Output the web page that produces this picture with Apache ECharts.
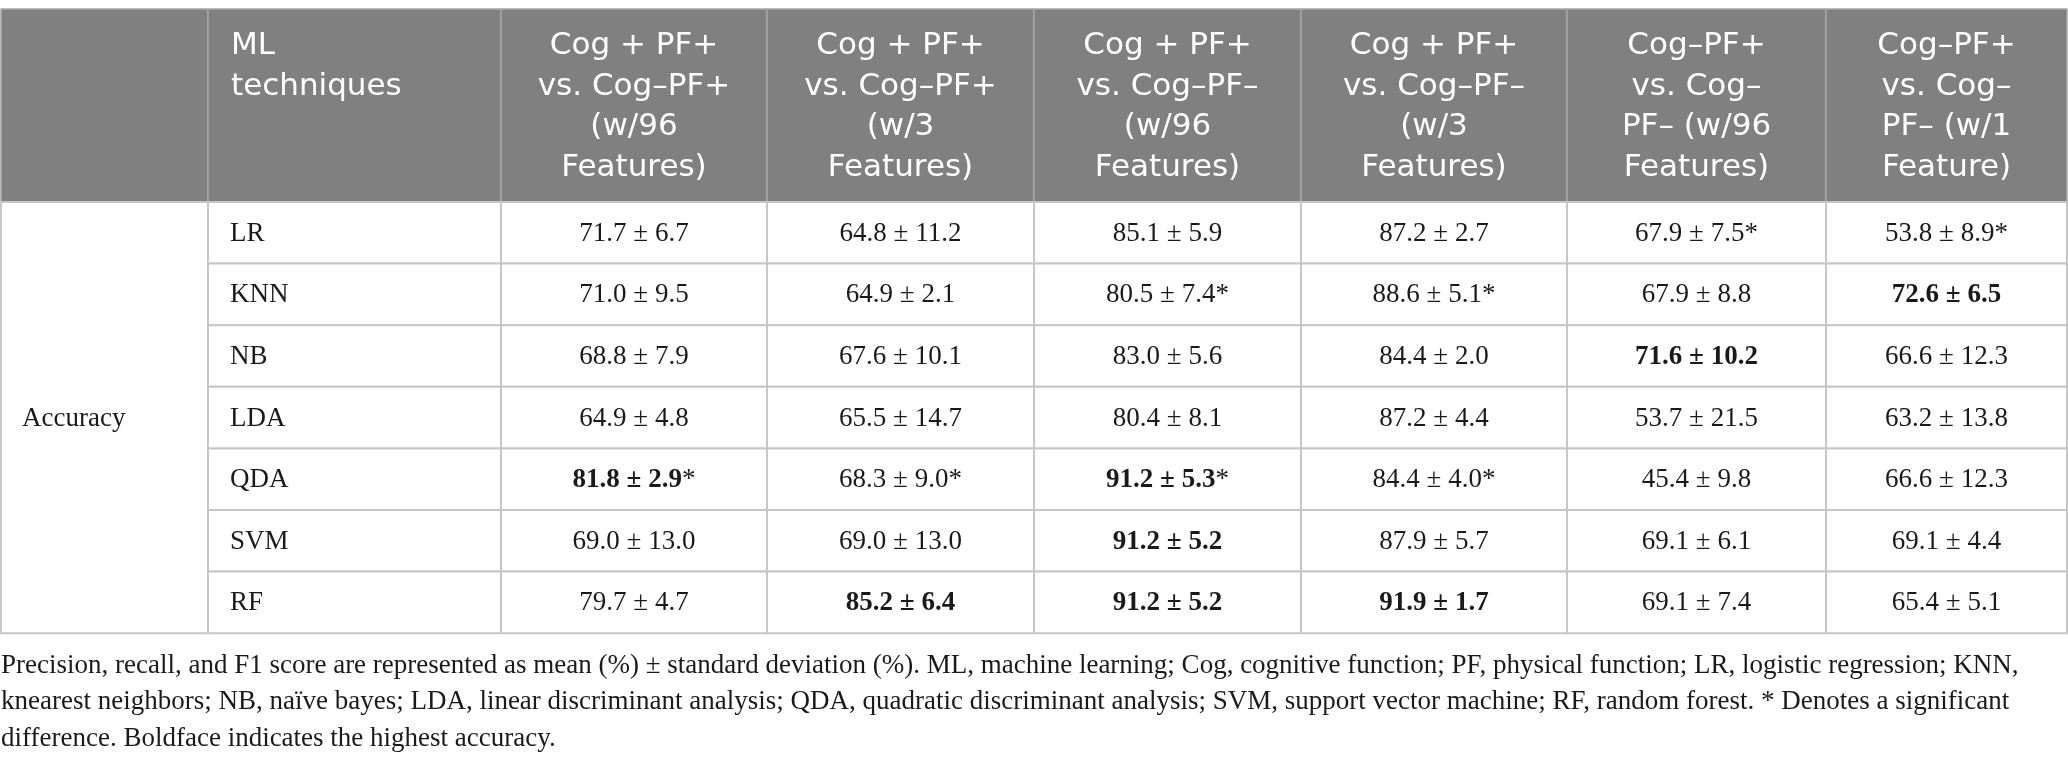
<!DOCTYPE html>
<html>
<head>
<meta charset="utf-8">
<title>ML accuracy table</title>
<script src="https://cdn.jsdelivr.net/npm/echarts@6/dist/echarts.min.js"></script>
<style>
  html, body { margin: 0; padding: 0; background: #fff; }
  #table-chart { width: 2068px; height: 765px; }
</style>
</head>
<body>
<div id="table-chart"></div>
<script>
// 表格数据
var techniques = ['LR', 'KNN', 'NB', 'LDA', 'QDA', 'SVM', 'RF'];
var metricName = 'Accuracy';
var firstHeader = ['ML', 'techniques'];
var comparisons = [
    ['Cog + PF+', 'vs. Cog–PF+', '(w/96', 'Features)'],
    ['Cog + PF+', 'vs. Cog–PF+', '(w/3', 'Features)'],
    ['Cog + PF+', 'vs. Cog–PF–', '(w/96', 'Features)'],
    ['Cog + PF+', 'vs. Cog–PF–', '(w/3', 'Features)'],
    ['Cog–PF+', 'vs. Cog–', 'PF– (w/96', 'Features)'],
    ['Cog–PF+', 'vs. Cog–', 'PF– (w/1', 'Feature)']
];

var meanLR  = [71.7, 64.8, 85.1, 87.2, 67.9, 53.8];
var sdLR    = [6.7, 11.2, 5.9, 2.7, 7.5, 8.9];
var meanKNN = [71.0, 64.9, 80.5, 88.6, 67.9, 72.6];
var sdKNN   = [9.5, 2.1, 7.4, 5.1, 8.8, 6.5];
var meanNB  = [68.8, 67.6, 83.0, 84.4, 71.6, 66.6];
var sdNB    = [7.9, 10.1, 5.6, 2.0, 10.2, 12.3];
var meanLDA = [64.9, 65.5, 80.4, 87.2, 53.7, 63.2];
var sdLDA   = [4.8, 14.7, 8.1, 4.4, 21.5, 13.8];
var meanQDA = [81.8, 68.3, 91.2, 84.4, 45.4, 66.6];
var sdQDA   = [2.9, 9.0, 5.3, 4.0, 9.8, 12.3];
var meanSVM = [69.0, 69.0, 91.2, 87.9, 69.1, 69.1];
var sdSVM   = [13.0, 13.0, 5.2, 5.7, 6.1, 4.4];
var meanRF  = [79.7, 85.2, 91.2, 91.9, 69.1, 65.4];
var sdRF    = [4.7, 6.4, 5.2, 1.7, 7.4, 5.1];

// [行, 列]
var significant = [[0, 4], [0, 5], [1, 2], [1, 3], [4, 0], [4, 1], [4, 2], [4, 3]];
var highest = [[1, 5], [2, 4], [4, 0], [4, 2], [5, 2], [6, 1], [6, 2], [6, 3]];

var captionLines = [
    'Precision, recall, and F1 score are represented as mean (%) ± standard deviation (%). ML, machine learning; Cog, cognitive function; PF, physical function; LR, logistic regression; KNN,',
    'knearest neighbors; NB, naïve bayes; LDA, linear discriminant analysis; QDA, quadratic discriminant analysis; SVM, support vector machine; RF, random forest. * Denotes a significant',
    'difference. Boldface indicates the highest accuracy.'
];

// 布局
var colEdges = [1, 208, 501, 767, 1034, 1301, 1567, 1826, 2067];
var headerTop = 9;
var headerBottom = 202;
var rowHeight = 61.6;
var serif = '"Liberation Serif", "Times New Roman", serif';
var sans = '"DejaVu Sans", sans-serif';
var ink = '#1a1a1a';

var meanRows = [meanLR, meanKNN, meanNB, meanLDA, meanQDA, meanSVM, meanRF];
var sdRows = [sdLR, sdKNN, sdNB, sdLDA, sdQDA, sdSVM, sdRF];

function hasPair(list, r, c) {
    for (var i = 0; i < list.length; i++) {
        if (list[i][0] === r && list[i][1] === c) return true;
    }
    return false;
}

var headerData = [];
headerData.push([0, -1]);
headerData.push([1, 0]);
for (var c = 0; c < comparisons.length; c++) headerData.push([c + 2, c + 1]);

var cellData = [];
for (var r = 0; r < techniques.length; r++) {
    for (var c = 0; c < comparisons.length; c++) {
        var txt = meanRows[r][c].toFixed(1) + ' ± ' + sdRows[r][c].toFixed(1);
        var label = hasPair(highest, r, c) ? '{b|' + txt + '}' : '{n|' + txt + '}';
        if (hasPair(significant, r, c)) label += '{n|*}';
        cellData.push([c + 2, r, label]);
    }
}

var labelData = [];
for (var r = 0; r < techniques.length; r++) labelData.push([1, r, techniques[r]]);

var chart = echarts.init(document.getElementById('table-chart'));

function rowTop(r) { return headerBottom + r * rowHeight; }

var option = {
    animation: false,
    grid: { left: 0, right: 0, top: 0, bottom: 0 },
    xAxis: { type: 'value', min: 0, max: 2068, show: false },
    yAxis: { type: 'value', min: 0, max: 765, inverse: true, show: false },
    series: [
        {
            // 表头
            type: 'custom',
            data: headerData,
            renderItem: function (params, api) {
                var col = api.value(0);
                var idx = api.value(1);
                var p0 = api.coord([colEdges[col], headerTop]);
                var p1 = api.coord([colEdges[col + 1], headerBottom]);
                var children = [{
                    type: 'rect',
                    shape: { x: p0[0], y: p0[1], width: p1[0] - p0[0], height: p1[1] - p0[1] },
                    style: { fill: '#808080', stroke: '#a6a6a6', lineWidth: 1.5 }
                }];
                var lines = idx < 0 ? [] : (idx === 0 ? firstHeader : comparisons[idx - 1]);
                for (var i = 0; i < lines.length; i++) {
                    var tx = idx === 0 ? api.coord([colEdges[col] + 23, 0])[0] : (p0[0] + p1[0]) / 2;
                    var ty = api.coord([0, 46 + i * 40.5])[1];
                    children.push({
                        type: 'text',
                        style: {
                            text: lines[i], x: tx, y: ty,
                            fill: '#ffffff', font: '31px ' + sans,
                            align: idx === 0 ? 'left' : 'center', verticalAlign: 'middle'
                        }
                    });
                }
                return { type: 'group', children: children };
            }
        },
        {
            // 指标合并单元格
            type: 'custom',
            data: [[0, 0, metricName]],
            renderItem: function (params, api) {
                var p0 = api.coord([colEdges[0], rowTop(0)]);
                var p1 = api.coord([colEdges[1], rowTop(techniques.length)]);
                return {
                    type: 'group',
                    children: [{
                        type: 'rect',
                        shape: { x: p0[0], y: p0[1], width: p1[0] - p0[0], height: p1[1] - p0[1] },
                        style: { fill: '#ffffff', stroke: '#c6c6c6', lineWidth: 2 }
                    }, {
                        type: 'text',
                        style: {
                            text: metricName, x: p0[0] + 21, y: (p0[1] + p1[1]) / 2 + 1,
                            fill: ink, font: '27px ' + serif,
                            align: 'left', verticalAlign: 'middle'
                        }
                    }]
                };
            }
        },
        {
            // 方法名称
            type: 'custom',
            data: labelData,
            renderItem: function (params, api) {
                var col = api.value(0);
                var r = api.value(1);
                var p0 = api.coord([colEdges[col], rowTop(r)]);
                var p1 = api.coord([colEdges[col + 1], rowTop(r + 1)]);
                return {
                    type: 'group',
                    children: [{
                        type: 'rect',
                        shape: { x: p0[0], y: p0[1], width: p1[0] - p0[0], height: p1[1] - p0[1] },
                        style: { fill: '#ffffff', stroke: '#c6c6c6', lineWidth: 2 }
                    }, {
                        type: 'text',
                        style: {
                            text: techniques[r], x: p0[0] + 22, y: (p0[1] + p1[1]) / 2 + 1,
                            fill: ink, font: '27px ' + serif,
                            align: 'left', verticalAlign: 'middle'
                        }
                    }]
                };
            }
        },
        {
            // 数值单元格
            type: 'custom',
            data: cellData,
            renderItem: function (params, api) {
                var col = api.value(0);
                var r = api.value(1);
                var label = cellData[params.dataIndex][2];
                var p0 = api.coord([colEdges[col], rowTop(r)]);
                var p1 = api.coord([colEdges[col + 1], rowTop(r + 1)]);
                return {
                    type: 'group',
                    children: [{
                        type: 'rect',
                        shape: { x: p0[0], y: p0[1], width: p1[0] - p0[0], height: p1[1] - p0[1] },
                        style: { fill: '#ffffff', stroke: '#c6c6c6', lineWidth: 2 }
                    }, {
                        type: 'text',
                        style: {
                            text: label, x: (p0[0] + p1[0]) / 2, y: (p0[1] + p1[1]) / 2 + 1,
                            align: 'center', verticalAlign: 'middle',
                            rich: {
                                n: { fontFamily: serif, fontSize: 27, fill: ink },
                                b: { fontFamily: serif, fontSize: 27, fontWeight: 'bold', fill: ink }
                            }
                        }
                    }]
                };
            }
        }
    ],
    graphic: captionLines.map(function (line, i) {
        return {
            type: 'text',
            left: 1,
            top: 652 + i * 36.7,
            style: { text: line, font: '27px ' + serif, fill: ink }
        };
    })
};

chart.setOption(option);
</script>
</body>
</html>
